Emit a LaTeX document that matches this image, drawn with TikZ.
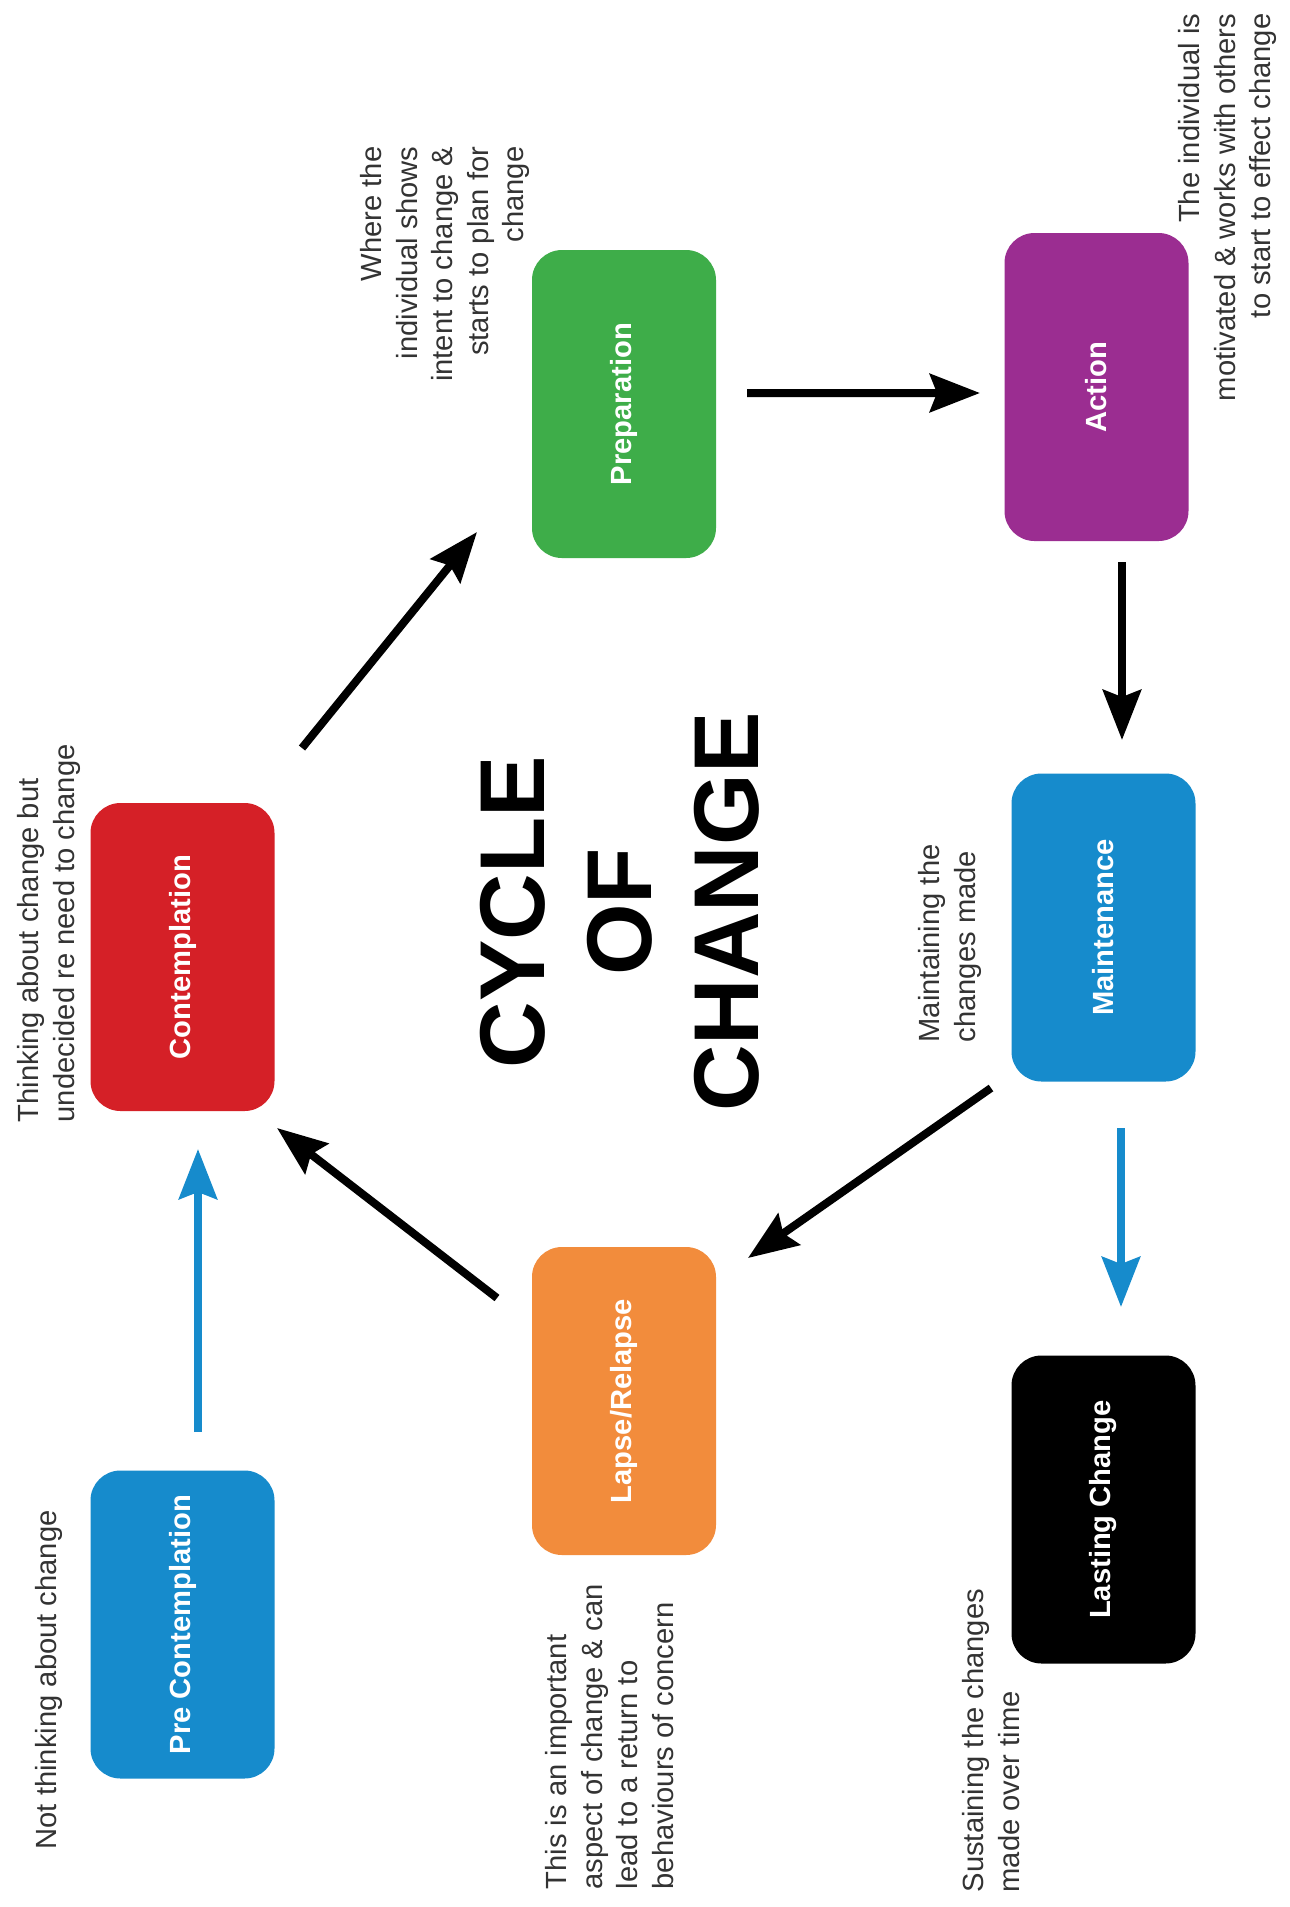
\documentclass[tikz,border=0pt]{standalone}
\usepackage{fontspec}
\setmainfont{Liberation Sans}
\usepackage{tikz}
\usetikzlibrary{arrows.meta,calc}
\usepackage{xcolor}

\definecolor{stageblue}{RGB}{22,139,204}
\definecolor{stagered}{RGB}{213,32,39}
\definecolor{stagegreen}{RGB}{62,173,73}
\definecolor{stagepurple}{RGB}{155,45,145}
\definecolor{stageorange}{RGB}{242,140,60}

\begin{document}
\begin{tikzpicture}[x=1cm, y=-1cm,
    stage/.style={rectangle, rounded corners=0.3cm, rotate=90, minimum width=3.08cm, minimum height=1.84cm, inner sep=0pt, text=white, font=\fontsize{8.3}{10}\selectfont\bfseries},
    note/.style={rotate=90, inner sep=0pt, text=black!80, font=\fontsize{8.3}{10.1}\selectfont},
    arr/.style={line width=0.08cm, -{Stealth[length=0.5cm, width=0.38cm, inset=0.07cm]}}]
    \useasboundingbox[fill=white] (0,0) rectangle (12.9,19.07);

    % stages
    \node[stage, fill=stageblue] (pre) at (1.825,16.245) {Pre Contemplation};
    \node[stage, fill=stagered] (contemp) at (1.825,9.57) {Contemplation};
    \node[stage, fill=stagegreen] (prep) at (6.24,4.04) {Preparation};
    \node[stage, fill=stagepurple] (action) at (10.965,3.87) {Action};
    \node[stage, fill=stageblue] (maint) at (11.035,9.275) {Maintenance};
    \node[stage, fill=stageorange] (lapse) at (6.24,14.01) {Lapse/Relapse};
    \node[stage, fill=black] (lasting) at (11.035,15.095) {Lasting Change};

    \node[rotate=90, align=center, font=\fontsize{26.2}{30.4}\selectfont\bfseries] (title) at (6.20,9.12) {CYCLE\\OF\\CHANGE};

    % notes
    \node[note, anchor=north west, align=left] (prenote) at (0.35,18.50) {Not thinking about change};
    \node[note, anchor=north west, align=left] (contempnote) at (0.17,11.23) {Thinking about change but\\undecided re need to change};
    \node[note, anchor=north east, align=right] (prepnote) at (3.60,1.46) {Where the\\individual shows\\intent to change \&\\starts to plan for\\change};
    \node[note, anchor=north east, align=right] (actionnote) at (11.78,0.13) {The individual is\\motivated \& works with others\\to start to effect change};
    \node[note, anchor=north west, align=left] (maintnote) at (9.18,10.43) {Maintaining the\\changes made};
    \node[note, anchor=north west, align=left] (lapsenote) at (5.45,18.90) {This is an important\\aspect of change \& can\\lead to a return to\\behaviours of concern};
    \node[note, anchor=north west, align=left] (lastingnote) at (9.62,18.93) {Sustaining the changes\\made over time};

    % arrows
    \draw[arr, stageblue] ($(pre)+(0.155,-1.925)$) -- ($(contemp)+(0.155,1.92)$);
    \draw[arr] ($(contemp)+(1.195,-2.09)$) -- ($(prep)+(-1.47,1.28)$);
    \draw[arr] ($(prep)+(1.23,-0.11)$) -- ($(action)+(-1.165,0.06)$);
    \draw[arr] ($(action)+(0.255,1.75)$) -- ($(maint)+(0.185,-1.875)$);
    \draw[arr] ($(maint)+(-1.125,1.605)$) -- ($(lapse)+(1.24,-1.43)$);
    \draw[arr] ($(lapse)+(-1.27,-1.03)$) -- ($(contemp)+(0.945,1.71)$);
    \draw[arr, stageblue] ($(maint)+(0.175,2.005)$) -- ($(lasting)+(0.175,-2.025)$);
\end{tikzpicture}
\end{document}
